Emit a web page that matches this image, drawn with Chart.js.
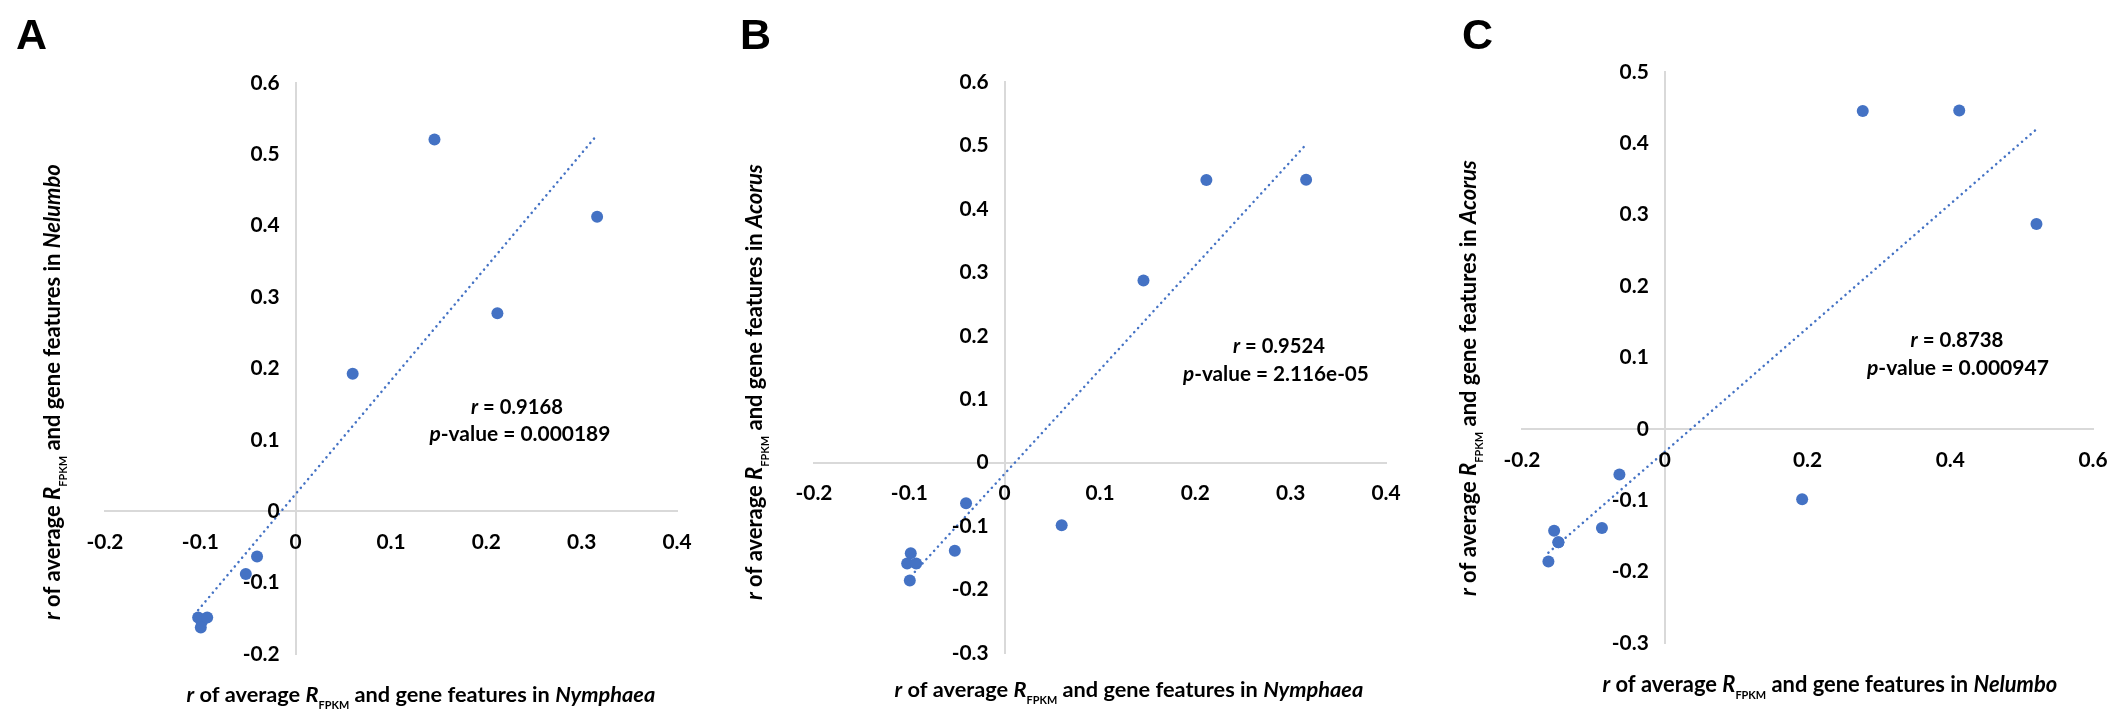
<!DOCTYPE html>
<html>
<head>
<meta charset="utf-8">
<title>r of average RFPKM and gene features</title>
<script src="https://cdn.jsdelivr.net/npm/chart.js@4.4.1/dist/chart.umd.min.js"></script>
<style>
  html, body { margin: 0; padding: 0; background: #fff; }
  #figure { position: relative; width: 2114px; height: 711px; }
  #figure canvas { position: absolute; top: 0; }
</style>
</head>
<body>
<div id="figure">
  <canvas id="chartA" width="705" height="711" style="left:0"></canvas>
  <canvas id="chartB" width="705" height="711" style="left:705px"></canvas>
  <canvas id="chartC" width="704" height="711" style="left:1410px"></canvas>
</div>
<script>
/* =========================
   r of average R_FPKM vs gene features, three species pairs
========================= */

// -------------------------
// Data (one value per gene feature, same order in every array)
// -------------------------
const nymphaea = [0.2116, 0.3162, 0.1456, 0.0598, -0.0405, -0.0523, -0.0985, -0.1023, -0.0928, -0.0995];
const nelumbo  = [0.2774, 0.4126, 0.5208, 0.1925, -0.0635, -0.0880, -0.1550, -0.1490, -0.1490, -0.1630];
const acorus   = [0.4454, 0.4461, 0.2872, -0.0986, -0.0638, -0.1390, -0.1426, -0.1589, -0.1589, -0.1858];

const rValues = ["0.9168", "0.9524", "0.8738"];
const pValues = ["0.000189", "2.116e-05", "0.000947"];

// axis ranges: [min, max, step]
const xRangeA = [-0.2, 0.4, 0.1];
const yRangeA = [-0.2, 0.6, 0.1];
const xRangeB = [-0.2, 0.4, 0.1];
const yRangeB = [-0.3, 0.6, 0.1];
const xRangeC = [-0.2, 0.6, 0.2];
const yRangeC = [-0.3, 0.5, 0.1];

// -------------------------
// Style
// -------------------------
const BLUE = "#4472C4";
const AXIS = "#D9D9D9";
const FONT = "Lato, 'Open Sans', sans-serif";
const TICK_WIDTH = 37;   // width of "-0.2" in the original, used to size tick text

const font = (p, k = 1) => `${p.italic ? "italic " : ""}bold ${(p.size || 22) * k}px ${FONT}`;
const fmt = v => String(Math.round(v * 10) / 10);

// draws a run of differently styled pieces centred on x,
// scaled so the whole run is `width` px wide when a width is given
function drawRich(ctx, parts, x, y, width) {
  let total = 0;
  parts.forEach(p => { ctx.font = font(p); total += ctx.measureText(p.text).width; });
  const k = width ? width / total : 1;
  let cx = x - (total * k) / 2;
  parts.forEach(p => {
    ctx.font = font(p, k);
    ctx.fillText(p.text, cx, y + (p.dy || 0) * k);
    cx += ctx.measureText(p.text).width;
  });
}

function axisTitle(species) {
  return [
    { text: "r", italic: true },
    { text: " of average " },
    { text: "R", italic: true },
    { text: "FPKM", size: 11, dy: 7 },
    { text: " and gene features in " },
    { text: species, italic: true }
  ];
}

// least squares line over the data's x span (Excel linear trendline)
function trendline(xs, ys) {
  const n = xs.length;
  const mx = xs.reduce((a, b) => a + b, 0) / n;
  const my = ys.reduce((a, b) => a + b, 0) / n;
  let sxy = 0, sxx = 0;
  xs.forEach((v, i) => { sxy += (v - mx) * (ys[i] - my); sxx += (v - mx) * (v - mx); });
  const slope = sxy / sxx, icpt = my - slope * mx;
  const lo = Math.min(...xs), hi = Math.max(...xs);
  return [{ x: lo, y: icpt + slope * lo }, { x: hi, y: icpt + slope * hi }];
}

// -------------------------
// Text plugin: tick labels next to the crossing axes, titles, stats, panel letter
// -------------------------
const panelText = {
  id: "panelText",
  afterDraw(chart, args, o) {
    const { ctx, scales: { x, y } } = chart;
    const x0 = x.getPixelForValue(0);
    const y0 = y.getPixelForValue(0);
    ctx.save();
    ctx.fillStyle = "#000";

    ctx.font = font({});
    const tk = TICK_WIDTH / ctx.measureText("-0.2").width;
    ctx.font = font({}, tk);
    ctx.textBaseline = "middle";
    ctx.textAlign = "center";
    x.ticks.forEach(t => ctx.fillText(fmt(t.value), x.getPixelForValue(t.value), y0 + 31));
    ctx.textAlign = "right";
    y.ticks.forEach(t => ctx.fillText(fmt(t.value), x0 - 16, y.getPixelForValue(t.value)));

    ctx.textAlign = "left";
    ctx.textBaseline = "alphabetic";
    drawRich(ctx, axisTitle(o.xName), o.xTitle[0], o.xTitle[1], o.xTitle[2]);

    ctx.save();
    ctx.translate(o.yTitle[0], o.yTitle[1]);
    ctx.rotate(-Math.PI / 2);
    drawRich(ctx, axisTitle(o.yName), 0, 0, o.yTitle[2]);
    ctx.restore();

    drawRich(ctx, [{ text: "r", italic: true }, { text: " = " + o.r }], o.rPos[0], o.rPos[1], o.rPos[2]);
    drawRich(ctx, [{ text: "p", italic: true }, { text: "-value = " + o.p }], o.pPos[0], o.pPos[1], o.pPos[2]);

    ctx.font = "bold 43px 'Liberation Sans', Arial, sans-serif";
    ctx.fillText(o.letter, o.letterPos[0], o.letterPos[1]);
    ctx.restore();
  }
};

// -------------------------
// Panel builder
// -------------------------
function makePanel(id, xs, ys, xr, yr, padding, text) {
  const points = xs.map((v, i) => ({ x: v, y: ys[i] }));
  const axis = (r, pos) => ({
    type: "linear",
    min: r[0],
    max: r[1],
    position: pos,
    ticks: { display: false, stepSize: r[2] },
    grid: { display: false, drawTicks: false },
    border: { color: AXIS, width: 2 }
  });

  return new Chart(document.getElementById(id), {
    type: "scatter",
    data: {
      datasets: [
        {
          data: points,
          pointRadius: 6,
          pointBackgroundColor: BLUE,
          pointBorderColor: BLUE,
          pointBorderWidth: 0,
          order: 2
        },
        {
          data: trendline(xs, ys),
          showLine: true,
          pointRadius: 0,
          borderColor: BLUE,
          borderWidth: 2.5,
          borderDash: [0.1, 5.6],
          borderCapStyle: "round",
          order: 1
        }
      ]
    },
    options: {
      responsive: false,
      animation: false,
      events: [],
      layout: { padding },
      plugins: {
        legend: { display: false },
        tooltip: { enabled: false },
        panelText: text
      },
      scales: {
        x: axis(xr, { y: 0 }),
        y: axis(yr, { x: 0 })
      }
    },
    plugins: [panelText]
  });
}

// -------------------------
// Panels  (text positions: [x, y, width] in canvas px)
// -------------------------
makePanel("chartA", nymphaea, nelumbo, xRangeA, yRangeA,
  { left: 105, right: 28, top: 83, bottom: 57 },
  { letter: "A", letterPos: [16, 49], xName: "Nymphaea", yName: "Nelumbo",
    xTitle: [421, 702, 469], yTitle: [60, 392, 456],
    r: rValues[0], p: pValues[0], rPos: [517, 414, 92], pPos: [520, 441, 181] });

makePanel("chartB", nymphaea, acorus, xRangeB, yRangeB,
  { left: 109, right: 24, top: 82, bottom: 58 },
  { letter: "B", letterPos: [35, 49], xName: "Nymphaea", yName: "Acorus",
    xTitle: [424, 697, 469], yTitle: [57, 382, 436],
    r: rValues[1], p: pValues[1], rPos: [574, 353, 92], pPos: [571, 381, 186] });

makePanel("chartC", nelumbo, acorus, xRangeC, yRangeC,
  { left: 112, right: 21, top: 72, bottom: 68 },
  { letter: "C", letterPos: [52, 49], xName: "Nelumbo", yName: "Acorus",
    xTitle: [420, 692, 455], yTitle: [66, 378, 436],
    r: rValues[2], p: pValues[2], rPos: [547, 347, 93], pPos: [548, 375, 182] });
</script>
</body>
</html>
